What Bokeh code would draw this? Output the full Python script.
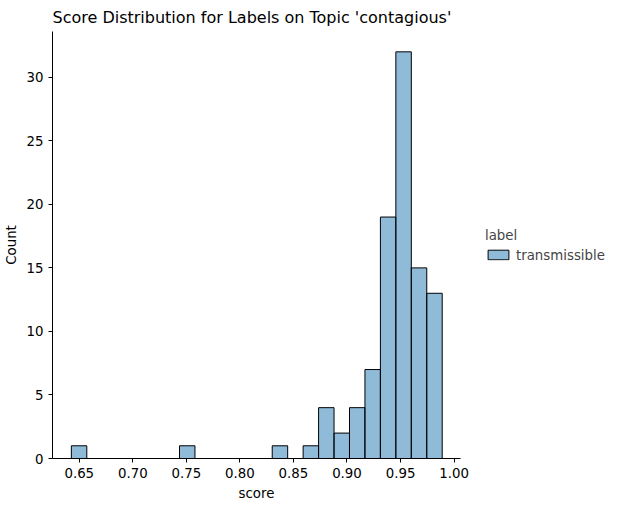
import numpy as np
from bokeh.plotting import figure
from bokeh.models import Legend, LegendItem
from bokeh.embed import file_html
from bokeh.resources import INLINE

bin_start = 0.6426
bin_width = 0.01443
counts = [1, 0, 0, 0, 0, 0, 0, 1, 0, 0, 0, 0, 0, 1, 0, 1, 4, 2, 4, 7, 19, 32, 15, 13]

edges = bin_start + bin_width * np.arange(len(counts) + 1)
ticks_x = [0.65, 0.70, 0.75, 0.80, 0.85, 0.90, 0.95, 1.00]

p = figure(frame_width=408, frame_height=427, output_backend="svg", toolbar_location=None,
           x_range=(0.625, 1.006), y_range=(0, 33.6),
           title="Score Distribution for Labels on Topic 'contagious'",
           x_axis_label="score", y_axis_label="Count")
p.min_border_left = 10
p.min_border_top = 5
r = p.quad(left=edges[:-1], right=edges[1:], bottom=0, top=counts,
           fill_color="#1f77b4", fill_alpha=0.5, line_color="black", line_width=1)

p.xgrid.visible = False
p.ygrid.visible = False
p.outline_line_color = None
p.title.text_font = "DejaVu Sans"
p.title.text_font_size = "12pt"
p.title.text_font_style = "normal"
p.title.text_color = "black"
p.title.align = "left"
for ax in (p.xaxis[0], p.yaxis[0]):
    ax.axis_label_text_font = "DejaVu Sans"
    ax.axis_label_text_font_style = "normal"
    ax.axis_label_text_font_size = "10pt"
    ax.axis_label_text_color = "black"
    ax.major_label_text_font = "DejaVu Sans"
    ax.major_label_text_font_size = "10pt"
    ax.major_label_text_color = "black"
    ax.axis_line_color = "black"
    ax.major_tick_line_color = "black"
    ax.minor_tick_line_color = None
    ax.major_tick_out = 4
    ax.major_tick_in = 0
p.xaxis.ticker = ticks_x
p.xaxis.major_label_overrides = {v: f"{v:.2f}" for v in ticks_x}
p.yaxis.ticker = [0, 5, 10, 15, 20, 25, 30]

legend = Legend(items=[LegendItem(label="transmissible", renderers=[r])],
                title="label", location="left", border_line_color=None,
                label_text_font="DejaVu Sans", label_text_font_size="10pt",
                title_text_font="DejaVu Sans", title_text_font_size="10pt",
                title_text_font_style="normal", margin=25,
                glyph_width=26, glyph_height=12)
p.add_layout(legend, "right")

open("out.html", "w").write(file_html(p, INLINE))
